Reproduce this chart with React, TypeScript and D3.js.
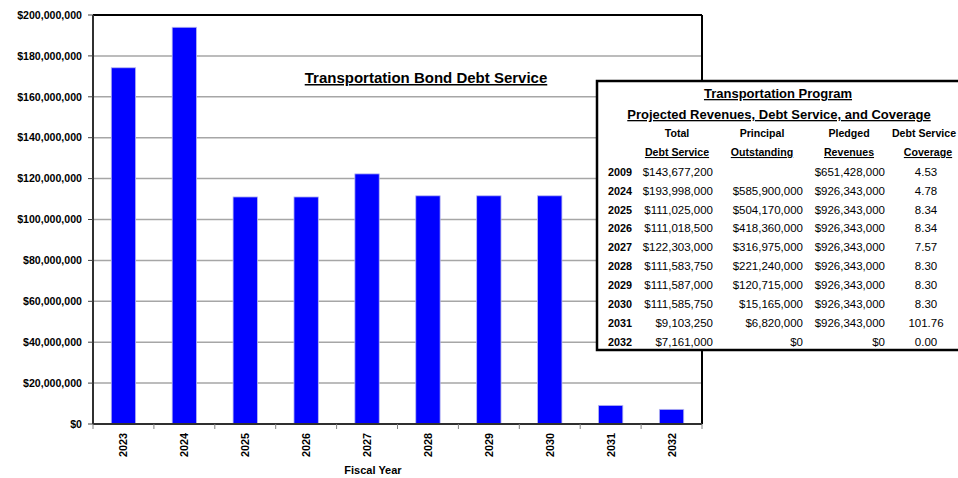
import React from "react";
import * as d3 from "d3";

const years = ["2023", "2024", "2025", "2026", "2027", "2028", "2029", "2030", "2031", "2032"];
const debtService = [174200000, 193998000, 111025000, 111018500, 122303000, 111583750, 111587000, 111585750, 9103250, 7161000];
const yTicks = [0, 20000000, 40000000, 60000000, 80000000, 100000000, 120000000, 140000000, 160000000, 180000000, 200000000];

const tableYears = ["2009", "2024", "2025", "2026", "2027", "2028", "2029", "2030", "2031", "2032"];
const tableTotal = ["$143,677,200", "$193,998,000", "$111,025,000", "$111,018,500", "$122,303,000", "$111,583,750", "$111,587,000", "$111,585,750", "$9,103,250", "$7,161,000"];
const tablePrincipal = ["", "$585,900,000", "$504,170,000", "$418,360,000", "$316,975,000", "$221,240,000", "$120,715,000", "$15,165,000", "$6,820,000", "$0"];
const tablePledged = ["$651,428,000", "$926,343,000", "$926,343,000", "$926,343,000", "$926,343,000", "$926,343,000", "$926,343,000", "$926,343,000", "$926,343,000", "$0"];
const tableCoverage = ["4.53", "4.78", "8.34", "8.34", "7.57", "8.30", "8.30", "8.30", "101.76", "0.00"];

const F = "'Liberation Sans', Arial, sans-serif";

export default function App() {
  const left = 93, right = 702, top = 15, bottom = 424;
  const x = d3.scaleBand().domain(years).range([left, right]).paddingInner(0.6).paddingOuter(0.3);
  const xb = d3.scaleBand().domain(years).range([left, right]);
  const y = d3.scaleLinear().domain([0, 200000000]).range([bottom, top]);
  const fmt = (v: number) => "$" + d3.format(",")(v);

  const rowY = (i: number) => 175.7 + i * 18.9;

  return (
    <svg width={958} height={478} style={{ position: "absolute", left: 0, top: 0 }} fontFamily={F}>
      <rect width={958} height={478} fill="#fff" />
      {/* gridlines */}
      {yTicks.map((t) => (
        <line key={"g" + t} x1={left} x2={right} y1={y(t)} y2={y(t)} stroke="#a6a6a6" strokeWidth={1.5} />
      ))}
      {/* bars */}
      {years.map((yr, i) => (
        <rect key={yr} x={x(yr)} y={y(debtService[i])} width={x.bandwidth()} height={bottom - y(debtService[i])}
          fill="#0000ff" stroke="#b8b8f0" strokeWidth={0.8} />
      ))}
      {/* frame */}
      <line x1={left} x2={right} y1={top} y2={top} stroke="#000" strokeWidth={2} />
      <line x1={right} x2={right} y1={top} y2={bottom} stroke="#000" strokeWidth={2} />
      <line x1={left} x2={left} y1={top} y2={bottom} stroke="#303030" strokeWidth={2} />
      <line x1={left} x2={right} y1={bottom} y2={bottom} stroke="#303030" strokeWidth={2} />
      {/* y ticks */}
      {yTicks.map((t) => (
        <g key={"t" + t}>
          <line x1={left - 5} x2={left} y1={y(t)} y2={y(t)} stroke="#404040" strokeWidth={1} />
          <text x={82} y={y(t)} dy="0.35em" textAnchor="end" fontSize={10.6} fontWeight="bold" fill="#000">{fmt(t)}</text>
        </g>
      ))}
      {/* x ticks */}
      {[...years.map((yr) => xb(yr) as number), right].map((px, i) => (
        <line key={"xt" + i} x1={px} x2={px} y1={bottom} y2={bottom + 5} stroke="#808080" strokeWidth={1} />
      ))}
      {years.map((yr) => {
        const cx = (xb(yr) as number) + xb.bandwidth() / 2;
        return (
          <text key={"xl" + yr} transform={`translate(${cx + 4},${433}) rotate(-90)`} textAnchor="end" fontSize={10.8} fontWeight="bold" fill="#000">{yr}</text>
        );
      })}
      <text x={373} y={474} textAnchor="middle" fontSize={11} fontWeight="bold">Fiscal Year</text>
      {/* chart title */}
      <text x={426} y={83} textAnchor="middle" fontSize={15} fontWeight="bold" textDecoration="underline">Transportation Bond Debt Service</text>

      {/* table */}
      <rect x={597} y={81} width={370} height={269} fill="#fff" stroke="#000" strokeWidth={2.5} />
      <text x={778} y={98} textAnchor="middle" fontSize={13} fontWeight="bold" textDecoration="underline">Transportation Program</text>
      <text x={779} y={119} textAnchor="middle" fontSize={13} fontWeight="bold" textDecoration="underline">Projected Revenues, Debt Service, and Coverage</text>
      <g fontSize={10.6} fontWeight="bold" textAnchor="middle">
        <text x={677} y={137}>Total</text>
        <text x={677} y={156} textDecoration="underline">Debt Service</text>
        <text x={762} y={137}>Principal</text>
        <text x={762} y={156} textDecoration="underline">Outstanding</text>
        <text x={849} y={137}>Pledged</text>
        <text x={849} y={156} textDecoration="underline">Revenues</text>
        <text x={924} y={137}>Debt Service</text>
        <text x={928} y={156} textDecoration="underline">Coverage</text>
      </g>
      {tableYears.map((yr, i) => (
        <g key={"r" + yr} fontSize={11.5}>
          <text x={608} y={rowY(i)} fontWeight="bold" fontSize={10.8}>{yr}</text>
          <text x={713} y={rowY(i)} textAnchor="end">{tableTotal[i]}</text>
          <text x={803} y={rowY(i)} textAnchor="end">{tablePrincipal[i]}</text>
          <text x={885} y={rowY(i)} textAnchor="end">{tablePledged[i]}</text>
          <text x={926} y={rowY(i)} textAnchor="middle">{tableCoverage[i]}</text>
        </g>
      ))}
    </svg>
  );
}
